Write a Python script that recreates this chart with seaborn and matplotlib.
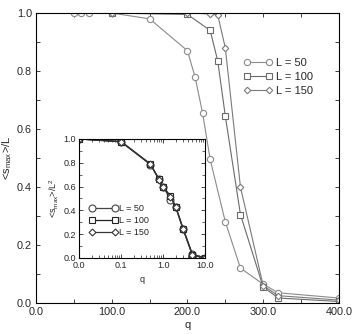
import numpy as np
import pandas as pd
import matplotlib
matplotlib.use('Agg')
import matplotlib.pyplot as plt
from matplotlib.ticker import MultipleLocator, FormatStrFormatter, LogLocator
import seaborn as sns

# main panel: <s_max>/L vs q
q_50 = [50, 60, 70, 100, 150, 200, 210, 220, 230, 250, 270, 300, 320, 400]
s_50 = [1.0, 1.0, 1.0, 1.0, 0.98, 0.87, 0.78, 0.655, 0.495, 0.28, 0.12, 0.065, 0.035, 0.017]
q_100 = [100, 200, 230, 240, 250, 270, 300, 320, 400]
s_100 = [1.0, 0.995, 0.94, 0.835, 0.645, 0.305, 0.055, 0.017, 0.005]
q_150 = [100, 200, 230, 240, 250, 270, 300, 320, 400]
s_150 = [1.0, 1.0, 0.997, 0.993, 0.88, 0.40, 0.06, 0.025, 0.01]

# inset: <s_max>/L^2 vs q (log)
qi = [0.01, 0.1, 0.5, 0.8, 1.0, 1.5, 2.0, 3.0, 5.0, 10.0]
si_50 = [1.0, 0.975, 0.785, 0.665, 0.60, 0.49, 0.43, 0.245, 0.03, 0.0]
si_100 = [1.0, 0.977, 0.787, 0.66, 0.60, 0.52, 0.43, 0.244, 0.025, 0.0]
si_150 = [1.0, 0.978, 0.79, 0.655, 0.595, 0.515, 0.425, 0.24, 0.02, 0.0]

labels = ['L = 50', 'L = 100', 'L = 150']
markers = ['o', 's', 'D']
msizes = [4.5, 4.2, 3.3]

sns.set_style('ticks')
plt.rcParams['font.family'] = ['Liberation Sans', 'DejaVu Sans']
plt.rcParams['mathtext.fontset'] = 'custom'
plt.rcParams['mathtext.rm'] = 'Liberation Sans'
plt.rcParams['mathtext.it'] = 'Liberation Sans'

fig = plt.figure(figsize=(3.53, 3.34), dpi=100)
ax = fig.add_axes([0.102, 0.093, 0.858, 0.868])

main = [(q_50, s_50), (q_100, s_100), (q_150, s_150)]
greys = ['#8a8a8a', '#6a6a6a', '#7a7a7a']
for (qq, ss), lab, m, ms, c in zip(main, labels, markers, msizes, greys):
    df = pd.DataFrame({'q': qq, 's': ss})
    sns.lineplot(data=df, x='q', y='s', ax=ax, sort=False, marker=m, markersize=ms,
                 color=c, mfc='white', mec=c, mew=0.8, lw=0.8, label=lab)

ax.set_xlim(0, 400)
ax.set_ylim(0, 1.0)
ax.xaxis.set_major_locator(MultipleLocator(100))
ax.xaxis.set_minor_locator(MultipleLocator(50))
ax.yaxis.set_major_locator(MultipleLocator(0.2))
ax.yaxis.set_minor_locator(MultipleLocator(0.1))
ax.xaxis.set_major_formatter(FormatStrFormatter('%.1f'))
ax.yaxis.set_major_formatter(FormatStrFormatter('%.1f'))
ax.tick_params(which='both', direction='in', top=True, right=True, labelsize=7.8, pad=3)
ax.tick_params(which='major', length=3, width=0.6)
ax.tick_params(which='minor', length=3, width=0.6)
for sp in ax.spines.values():
    sp.set_linewidth(0.8)
    sp.set_color('black')
ax.set_xlabel('q', fontsize=8, labelpad=2)
ax.set_ylabel(r'<s$_{\mathrm{max}}$>/L', fontsize=8, labelpad=2)
ax.legend(loc='upper left', bbox_to_anchor=(0.67, 0.86), frameon=False, fontsize=8,
          numpoints=2, handlelength=2.6, handletextpad=0.3, labelspacing=0.35,
          borderaxespad=0)

axi = fig.add_axes([0.224, 0.228, 0.357, 0.356])
inset = [si_50, si_100, si_150]
dark = ['#444444', '#222222', '#333333']
for ss, lab, m, ms, c in zip(inset, labels, markers, [5, 4.5, 3.5], dark):
    df = pd.DataFrame({'q': qi, 's': ss})
    sns.lineplot(data=df, x='q', y='s', ax=axi, sort=False, marker=m, markersize=ms,
                 color=c, mfc='white', mec=c, mew=0.8, lw=0.9, label=lab)

axi.set_xscale('log')
axi.set_xlim(0.01, 10)
axi.set_ylim(0, 1.0)
axi.xaxis.set_major_locator(LogLocator(base=10, numticks=10))
axi.xaxis.set_minor_locator(LogLocator(base=10, subs=np.arange(2, 10), numticks=10))
axi.xaxis.set_major_formatter(FormatStrFormatter('%.1f'))
axi.yaxis.set_major_locator(MultipleLocator(0.2))
axi.yaxis.set_minor_locator(MultipleLocator(0.1))
axi.yaxis.set_major_formatter(FormatStrFormatter('%.1f'))
axi.tick_params(which='both', direction='in', top=True, right=True, labelsize=6.5, pad=2)
axi.tick_params(which='major', length=3, width=0.6)
axi.tick_params(which='minor', length=2, width=0.5)
for sp in axi.spines.values():
    sp.set_linewidth(0.8)
    sp.set_color('black')
axi.set_xlabel('q', fontsize=6.5, labelpad=4)
axi.set_ylabel(r'<s$_{\mathrm{max}}$>/L$^2$', fontsize=6.5, labelpad=2)
axi.legend(loc='upper left', bbox_to_anchor=(0.05, 0.48), frameon=False, fontsize=6.5,
           numpoints=2, handlelength=3.2, handletextpad=0.1, labelspacing=0.3,
           borderaxespad=0)

fig.savefig('out.png', dpi=100)
